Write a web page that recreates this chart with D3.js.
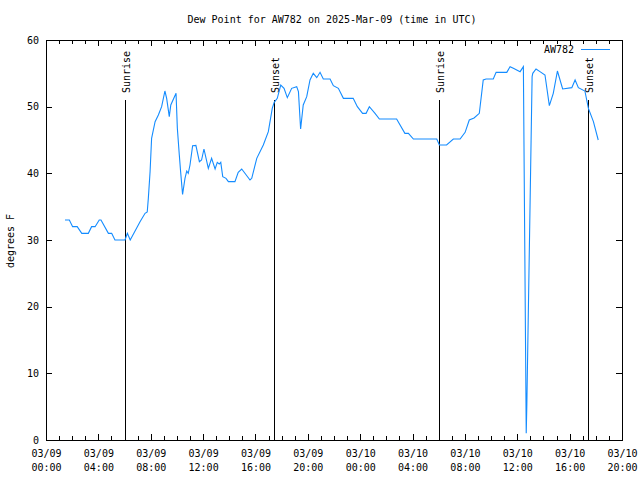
<!DOCTYPE html>
<html><head><meta charset="utf-8">
<script src="https://cdn.jsdelivr.net/npm/d3@7"></script>
<style>
body{margin:0;background:#fff;}
text{font-family:"DejaVu Sans Mono","Liberation Mono",monospace;font-size:10px;fill:#000;}
</style></head>
<body><svg id="c" width="640" height="480"></svg>
<script>
const title = "Dew Point for AW782 on 2025-Mar-09 (time in UTC)";
const yLabel = "degrees F";
const seriesName = "AW782";
const times = [
"2025-03-09 01:27","2025-03-09 01:47","2025-03-09 02:02","2025-03-09 02:23","2025-03-09 02:44","2025-03-09 03:14",
"2025-03-09 03:29","2025-03-09 03:45","2025-03-09 04:04","2025-03-09 04:12","2025-03-09 04:46","2025-03-09 05:01",
"2025-03-09 05:16","2025-03-09 06:02","2025-03-09 06:13","2025-03-09 06:26","2025-03-09 07:11","2025-03-09 07:34",
"2025-03-09 07:44","2025-03-09 07:49","2025-03-09 07:57","2025-03-09 08:04","2025-03-09 08:20","2025-03-09 08:35",
"2025-03-09 08:50","2025-03-09 09:05","2025-03-09 09:13","2025-03-09 09:25","2025-03-09 09:32","2025-03-09 09:56",
"2025-03-09 10:02","2025-03-09 10:11","2025-03-09 10:17","2025-03-09 10:26","2025-03-09 10:37","2025-03-09 10:45",
"2025-03-09 10:52","2025-03-09 11:00","2025-03-09 11:12","2025-03-09 11:27","2025-03-09 11:43","2025-03-09 11:53",
"2025-03-09 12:04","2025-03-09 12:24","2025-03-09 12:39","2025-03-09 12:55","2025-03-09 13:05","2025-03-09 13:14",
"2025-03-09 13:21","2025-03-09 13:30","2025-03-09 13:45","2025-03-09 13:56","2025-03-09 14:26","2025-03-09 14:41",
"2025-03-09 14:57","2025-03-09 15:35","2025-03-09 15:43","2025-03-09 16:06","2025-03-09 16:36","2025-03-09 16:59",
"2025-03-09 17:17","2025-03-09 17:26","2025-03-09 17:40","2025-03-09 17:56","2025-03-09 18:11","2025-03-09 18:26",
"2025-03-09 18:46","2025-03-09 19:09","2025-03-09 19:17","2025-03-09 19:27","2025-03-09 19:39","2025-03-09 19:55",
"2025-03-09 20:10","2025-03-09 20:25","2025-03-09 20:41","2025-03-09 20:56","2025-03-09 21:11","2025-03-09 21:42",
"2025-03-09 21:57","2025-03-09 22:20","2025-03-09 22:43","2025-03-09 23:28","2025-03-09 23:47","2025-03-10 00:11",
"2025-03-10 00:27","2025-03-10 00:42","2025-03-10 01:08","2025-03-10 01:28","2025-03-10 02:47","2025-03-10 03:25",
"2025-03-10 03:41","2025-03-10 04:04","2025-03-10 05:51","2025-03-10 06:03","2025-03-10 06:36","2025-03-10 07:07",
"2025-03-10 07:38","2025-03-10 08:01","2025-03-10 08:20","2025-03-10 08:42","2025-03-10 09:06","2025-03-10 09:24",
"2025-03-10 09:37","2025-03-10 10:10","2025-03-10 10:23","2025-03-10 11:12","2025-03-10 11:27","2025-03-10 11:42",
"2025-03-10 12:13","2025-03-10 12:28","2025-03-10 12:41","2025-03-10 12:44","2025-03-10 13:08","2025-03-10 13:11",
"2025-03-10 13:26","2025-03-10 13:44","2025-03-10 14:07","2025-03-10 14:27","2025-03-10 14:45","2025-03-10 15:04",
"2025-03-10 15:28","2025-03-10 16:10","2025-03-10 16:25","2025-03-10 16:40","2025-03-10 17:10","2025-03-10 17:26",
"2025-03-10 17:49","2025-03-10 18:11"];
const dewPoints = [
33,33,32,32,31,31,
32,32,33,33,31,31,
30,30,31,30,32.75,34,
34.2,36.25,40.25,45.25,47.75,48.75,
50,52.35,51.25,48.5,50.25,52,
46.75,42.75,40.25,36.85,39.25,40.35,
40,41.25,44.15,44.2,41.75,42,
43.65,40.75,42.25,40.65,41.65,41.4,
41.65,39.5,39.25,38.75,38.75,40.15,
40.65,39,39.25,42.25,44.25,46.25,
49.75,50.65,51.25,53.25,52.75,51.35,
52.75,53,52.25,46.65,50.25,51.5,
54,55,54.35,55.15,54.15,54.15,
53.15,52.75,51.25,51.25,50,49,
49,50,49,48.15,48.15,46,
46,45.15,45.15,44.25,44.25,45.15,
45.15,46.15,48,48.3,49,54,
54.15,54.15,55.15,55.15,56,55.75,
55.25,56,1,5.5,54.5,55,
55.65,55.25,54.75,50.15,52,55.35,
52.65,52.85,54,52.85,52.35,49.75,
47.75,45];
const sunEvents = ["Sunrise","Sunset","Sunrise","Sunset"];
const sunTimes = ["2025-03-09 06:02","2025-03-09 17:26","2025-03-10 06:03","2025-03-10 17:26"];
const sunLineTop = 51;
const xStart = "2025-03-09 00:00", xEnd = "2025-03-10 20:00";
const yTicks = [0,10,20,30,40,50,60];

const parse = d3.utcParse("%Y-%m-%d %H:%M");
const data = times.map((t,i)=>({t:parse(t), v:dewPoints[i]}));

const svg = d3.select("#c");
const L=46, R=622, T=40, B=440;
const x = d3.scaleUtc().domain([parse(xStart), parse(xEnd)]).range([L,R]);
const y = d3.scaleLinear().domain([0,60]).range([B,T]);

const majorX = d3.utcHour.every(4).range(parse(xStart), d3.utcMinute.offset(parse(xEnd),1));
const minorX = d3.utcHour.every(1).range(parse(xStart), d3.utcMinute.offset(parse(xEnd),1));
const fmtD = d3.utcFormat("%m/%d"), fmtH = d3.utcFormat("%H:%M");

function styleAxis(g){
  g.select(".domain").remove();
  g.selectAll("line").attr("stroke","#000").attr("shape-rendering","crispEdges");
  g.selectAll("text").attr("fill","#000").style("font-family",'"DejaVu Sans Mono",monospace').style("font-size","10px");
}

// minor ticks
svg.append("g").attr("transform",`translate(0,${B})`)
  .call(d3.axisBottom(x).tickValues(minorX).tickSize(-4).tickFormat("")).call(styleAxis);
svg.append("g").attr("transform",`translate(0,${T})`)
  .call(d3.axisTop(x).tickValues(minorX).tickSize(-4).tickFormat("")).call(styleAxis);

// major bottom ticks with labels
const gx = svg.append("g").attr("transform",`translate(0,${B})`)
  .call(d3.axisBottom(x).tickValues(majorX).tickSize(-6).tickPadding(10).tickFormat(d=>fmtD(d)))
  .call(styleAxis);
gx.selectAll(".tick text").each(function(d){
  const t = d3.select(this); t.text(null);
  t.append("tspan").attr("x",0).text(fmtD(d));
  t.append("tspan").attr("x",0).attr("dy",14).text(fmtH(d));
});
svg.append("g").attr("transform",`translate(0,${T})`)
  .call(d3.axisTop(x).tickValues(majorX).tickSize(-6).tickFormat("")).call(styleAxis);

// y axes
svg.append("g").attr("transform",`translate(${L},0)`)
  .call(d3.axisLeft(y).tickValues(yTicks).tickSize(-6).tickPadding(7)).call(styleAxis);
svg.append("g").attr("transform",`translate(${R},0)`)
  .call(d3.axisRight(y).tickValues(yTicks).tickSize(-6).tickFormat("")).call(styleAxis);

// frame
svg.append("rect").attr("x",L).attr("y",T).attr("width",R-L).attr("height",B-T)
  .attr("fill","none").attr("stroke","#000").attr("shape-rendering","crispEdges");

// sun events
sunTimes.forEach((s,i)=>{
  const xx = Math.round(x(parse(s)));
  svg.append("line").attr("x1",xx).attr("x2",xx).attr("y1",y(0)).attr("y2",y(sunLineTop))
    .attr("stroke","#000").attr("shape-rendering","crispEdges");
  svg.append("text").attr("transform",`translate(${xx+5},${y(sunLineTop)-7}) rotate(-90)`)
    .attr("text-anchor","start").text(sunEvents[i]);
});

// data line
svg.append("path").datum(data)
  .attr("d", d3.line().x(d=>x(d.t)).y(d=>y(d.v)))
  .attr("fill","none").attr("stroke","#148cff").attr("stroke-width",1.1);

// title, labels, legend
svg.append("text").attr("x",332).attr("y",23).attr("text-anchor","middle").text(title);
svg.append("text").attr("transform","translate(14,241) rotate(-90)").attr("text-anchor","middle").text(yLabel);
svg.append("text").attr("x",574).attr("y",53).attr("text-anchor","end").text(seriesName);
svg.append("line").attr("x1",581).attr("x2",610).attr("y1",49.5).attr("y2",49.5)
  .attr("stroke","#148cff").attr("stroke-width",1);
</script></body></html>
